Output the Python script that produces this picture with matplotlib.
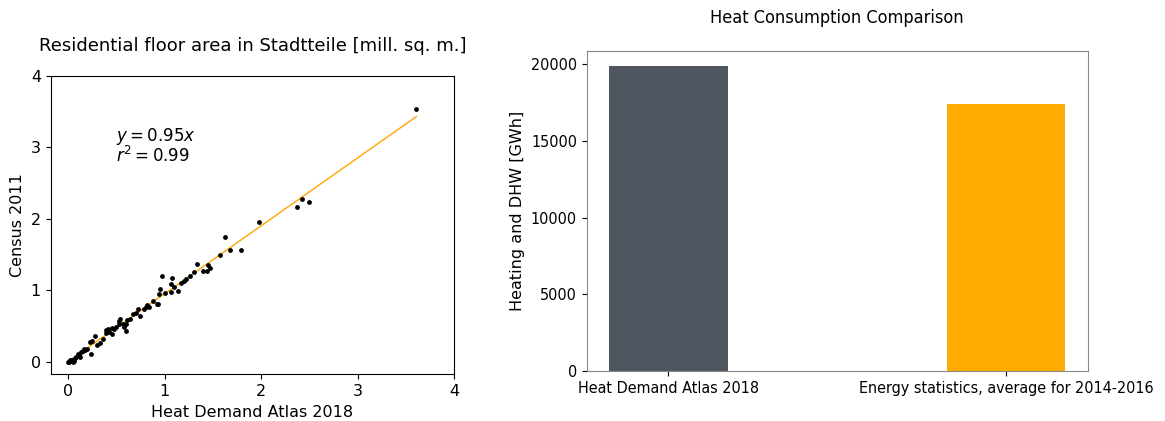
import numpy as np
import matplotlib
matplotlib.use('Agg')
import matplotlib.pyplot as plt

# floor area per Stadtteil [mill. sq. m.]
atlas = [3.61, 2.37, 2.42, 2.50, 1.98, 1.63, 1.68, 1.79, 1.57, 1.34,
         1.40, 1.44, 1.45, 1.47, 1.31, 1.26, 1.20, 1.17, 1.08, 1.07,
         1.10, 1.14, 1.07, 0.97, 0.95, 0.94, 0.93, 0.92, 0.84, 0.82,
         0.81, 0.79, 0.72, 0.75, 0.64, 0.61, 0.60, 0.57, 0.60, 0.58,
         0.54, 0.53, 0.53, 0.45, 0.45, 0.41, 0.39, 0.39, 0.42, 0.28,
         0.23, 0.25, 0.24, 0.30, 0.33, 0.36, 0.15, 0.13, 0.12, 0.17,
         0.10, 0.08, 0.04, 0.01, 0.03, 0.06, 0.05, 0.00, 0.02, 0.67,
         0.70, 0.88, 1.00, 1.22, 0.48, 0.50, 0.20, 0.18, 0.11, 0.07]
census = [3.53, 2.17, 2.27, 2.24, 1.95, 1.75, 1.56, 1.56, 1.49, 1.36,
          1.27, 1.27, 1.35, 1.31, 1.26, 1.20, 1.13, 1.10, 1.17, 1.09,
          1.04, 0.99, 0.97, 1.20, 1.01, 0.94, 0.81, 0.80, 0.77, 0.79,
          0.76, 0.74, 0.73, 0.64, 0.59, 0.58, 0.53, 0.52, 0.43, 0.48,
          0.60, 0.57, 0.52, 0.47, 0.39, 0.46, 0.44, 0.40, 0.42, 0.36,
          0.28, 0.29, 0.11, 0.24, 0.26, 0.32, 0.15, 0.13, 0.07, 0.18,
          0.11, 0.06, 0.02, 0.00, 0.01, 0.01, 0.00, 0.00, 0.03, 0.66,
          0.68, 0.85, 0.96, 1.15, 0.46, 0.49, 0.18, 0.17, 0.09, 0.05]
slope = 0.95

sources = ['Heat Demand Atlas 2018', 'Energy statistics, average for 2014-2016']
heat_gwh = [19900, 17420]
heat_ticks = [0, 5000, 10000, 15000, 20000]
bar_colors = ['#505660', '#FFAB00']

fig = plt.figure(figsize=(11.65, 4.21), dpi=100)

# left: scatter with fit
ax1 = fig.add_axes([0.0435, 0.111, 0.3462, 0.709])
ax1.scatter(atlas, census, s=6, c='black', zorder=3)
xfit = np.array([0, max(atlas)])
ax1.plot(xfit, slope * xfit, color='orange', lw=1)
ax1.set_xticks([0, 1, 2, 3, 4])
ax1.set_yticks([0, 1, 2, 3, 4])
ax1.tick_params(labelsize=11.5)
ax1.set_xlabel('Heat Demand Atlas 2018', fontsize=11.5)
ax1.set_ylabel('Census 2011', fontsize=11.5)
ax1.set_title('Residential floor area in Stadtteile [mill. sq. m.]', fontsize=13, pad=18)
ax1.text(0.5, 2.80, '$y = 0.95x$\n$r^2 = 0.99$', fontsize=12,
         va='baseline', linespacing=0.9)

# right: bars
ax2 = fig.add_axes([0.5036, 0.1188, 0.430, 0.761])
ax2.bar(range(len(sources)), heat_gwh, width=0.35, color=bar_colors)
ax2.set_xticks(range(len(sources)))
ax2.set_xticklabels(sources, fontsize=11.5, fontstretch='condensed')
ax2.set_yticks(heat_ticks)
ax2.set_yticklabels([str(t) for t in heat_ticks], fontsize=11.5, fontstretch='condensed')
ax2.set_ylabel('Heating and DHW [GWh]', fontsize=11.5)
ax2.set_title('Heat Consumption Comparison', fontsize=13, pad=20, fontstretch='condensed')
for sp in ax2.spines.values():
    sp.set_color('#888888')

fig.savefig('out.png', dpi=100)
